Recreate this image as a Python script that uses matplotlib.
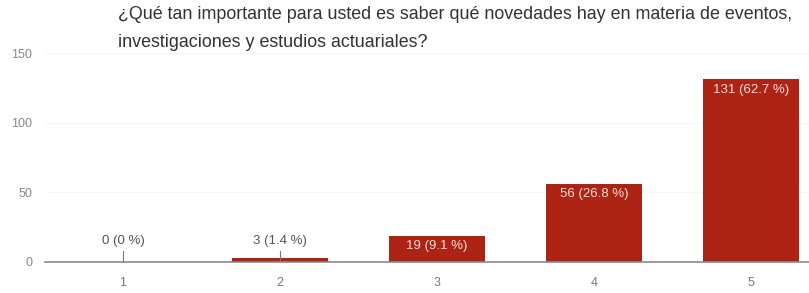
import numpy as np
import matplotlib.pyplot as plt

# Respuestas por nivel de importancia
categorias = ['1', '2', '3', '4', '5']
respuestas = [0, 3, 19, 56, 131]
etiquetas = ['0 (0 %)', '3 (1.4 %)', '19 (9.1 %)', '56 (26.8 %)', '131 (62.7 %)']
yticks = [0, 50, 100, 150]

titulo = ('¿Qué tan importante para usted es saber qué novedades hay en materia de eventos,\n'
          'investigaciones y estudios actuariales?')

plt.rcParams['font.family'] = ['Liberation Sans', 'DejaVu Sans']

fig = plt.figure(figsize=(8.09, 2.93), dpi=100)
# the axis runs past the right edge, as in the cropped original
ax = fig.add_axes([44.5 / 809, 31 / 293, 785 / 809, 209 / 293])

x = np.arange(len(categorias))
color_barra = '#ad2414'
ax.bar(x, respuestas, width=0.61, color=color_barra, zorder=2)

for i, (v, txt) in enumerate(zip(respuestas, etiquetas)):
    if v < 10:
        ax.plot([i, i], [0, 8], color='#777777', lw=0.8, zorder=3)
        ax.text(i, 11, txt, ha='center', va='bottom', fontsize=9.5, color='#555555')
    else:
        ax.text(i, v - 3, txt, ha='center', va='top', fontsize=9.5, color='#f4e0d8', zorder=4)

ax.set_xlim(-0.5, len(categorias) - 0.5)
ax.set_ylim(0, 150)
ax.set_xticks(x)
ax.set_xticklabels(categorias, fontsize=9, color='#777777')
ax.set_yticks(yticks)
ax.set_yticklabels([str(t) for t in yticks], fontsize=9, color='#888888')
ax.tick_params(length=0, pad=11)
ax.tick_params(axis='y', pad=9)
ax.grid(axis='y', color='#f6f6f6', lw=0.8, zorder=0)
for s in ['top', 'right', 'left']:
    ax.spines[s].set_visible(False)
ax.spines['bottom'].set_color('#8a8a8a')
ax.spines['bottom'].set_linewidth(1.2)

fig.text(118 / 809, 1 - 6 / 293, titulo, ha='left', va='top', fontsize=12.9,
         color='#333333', linespacing=1.85)

fig.savefig('out.png', dpi=100)
